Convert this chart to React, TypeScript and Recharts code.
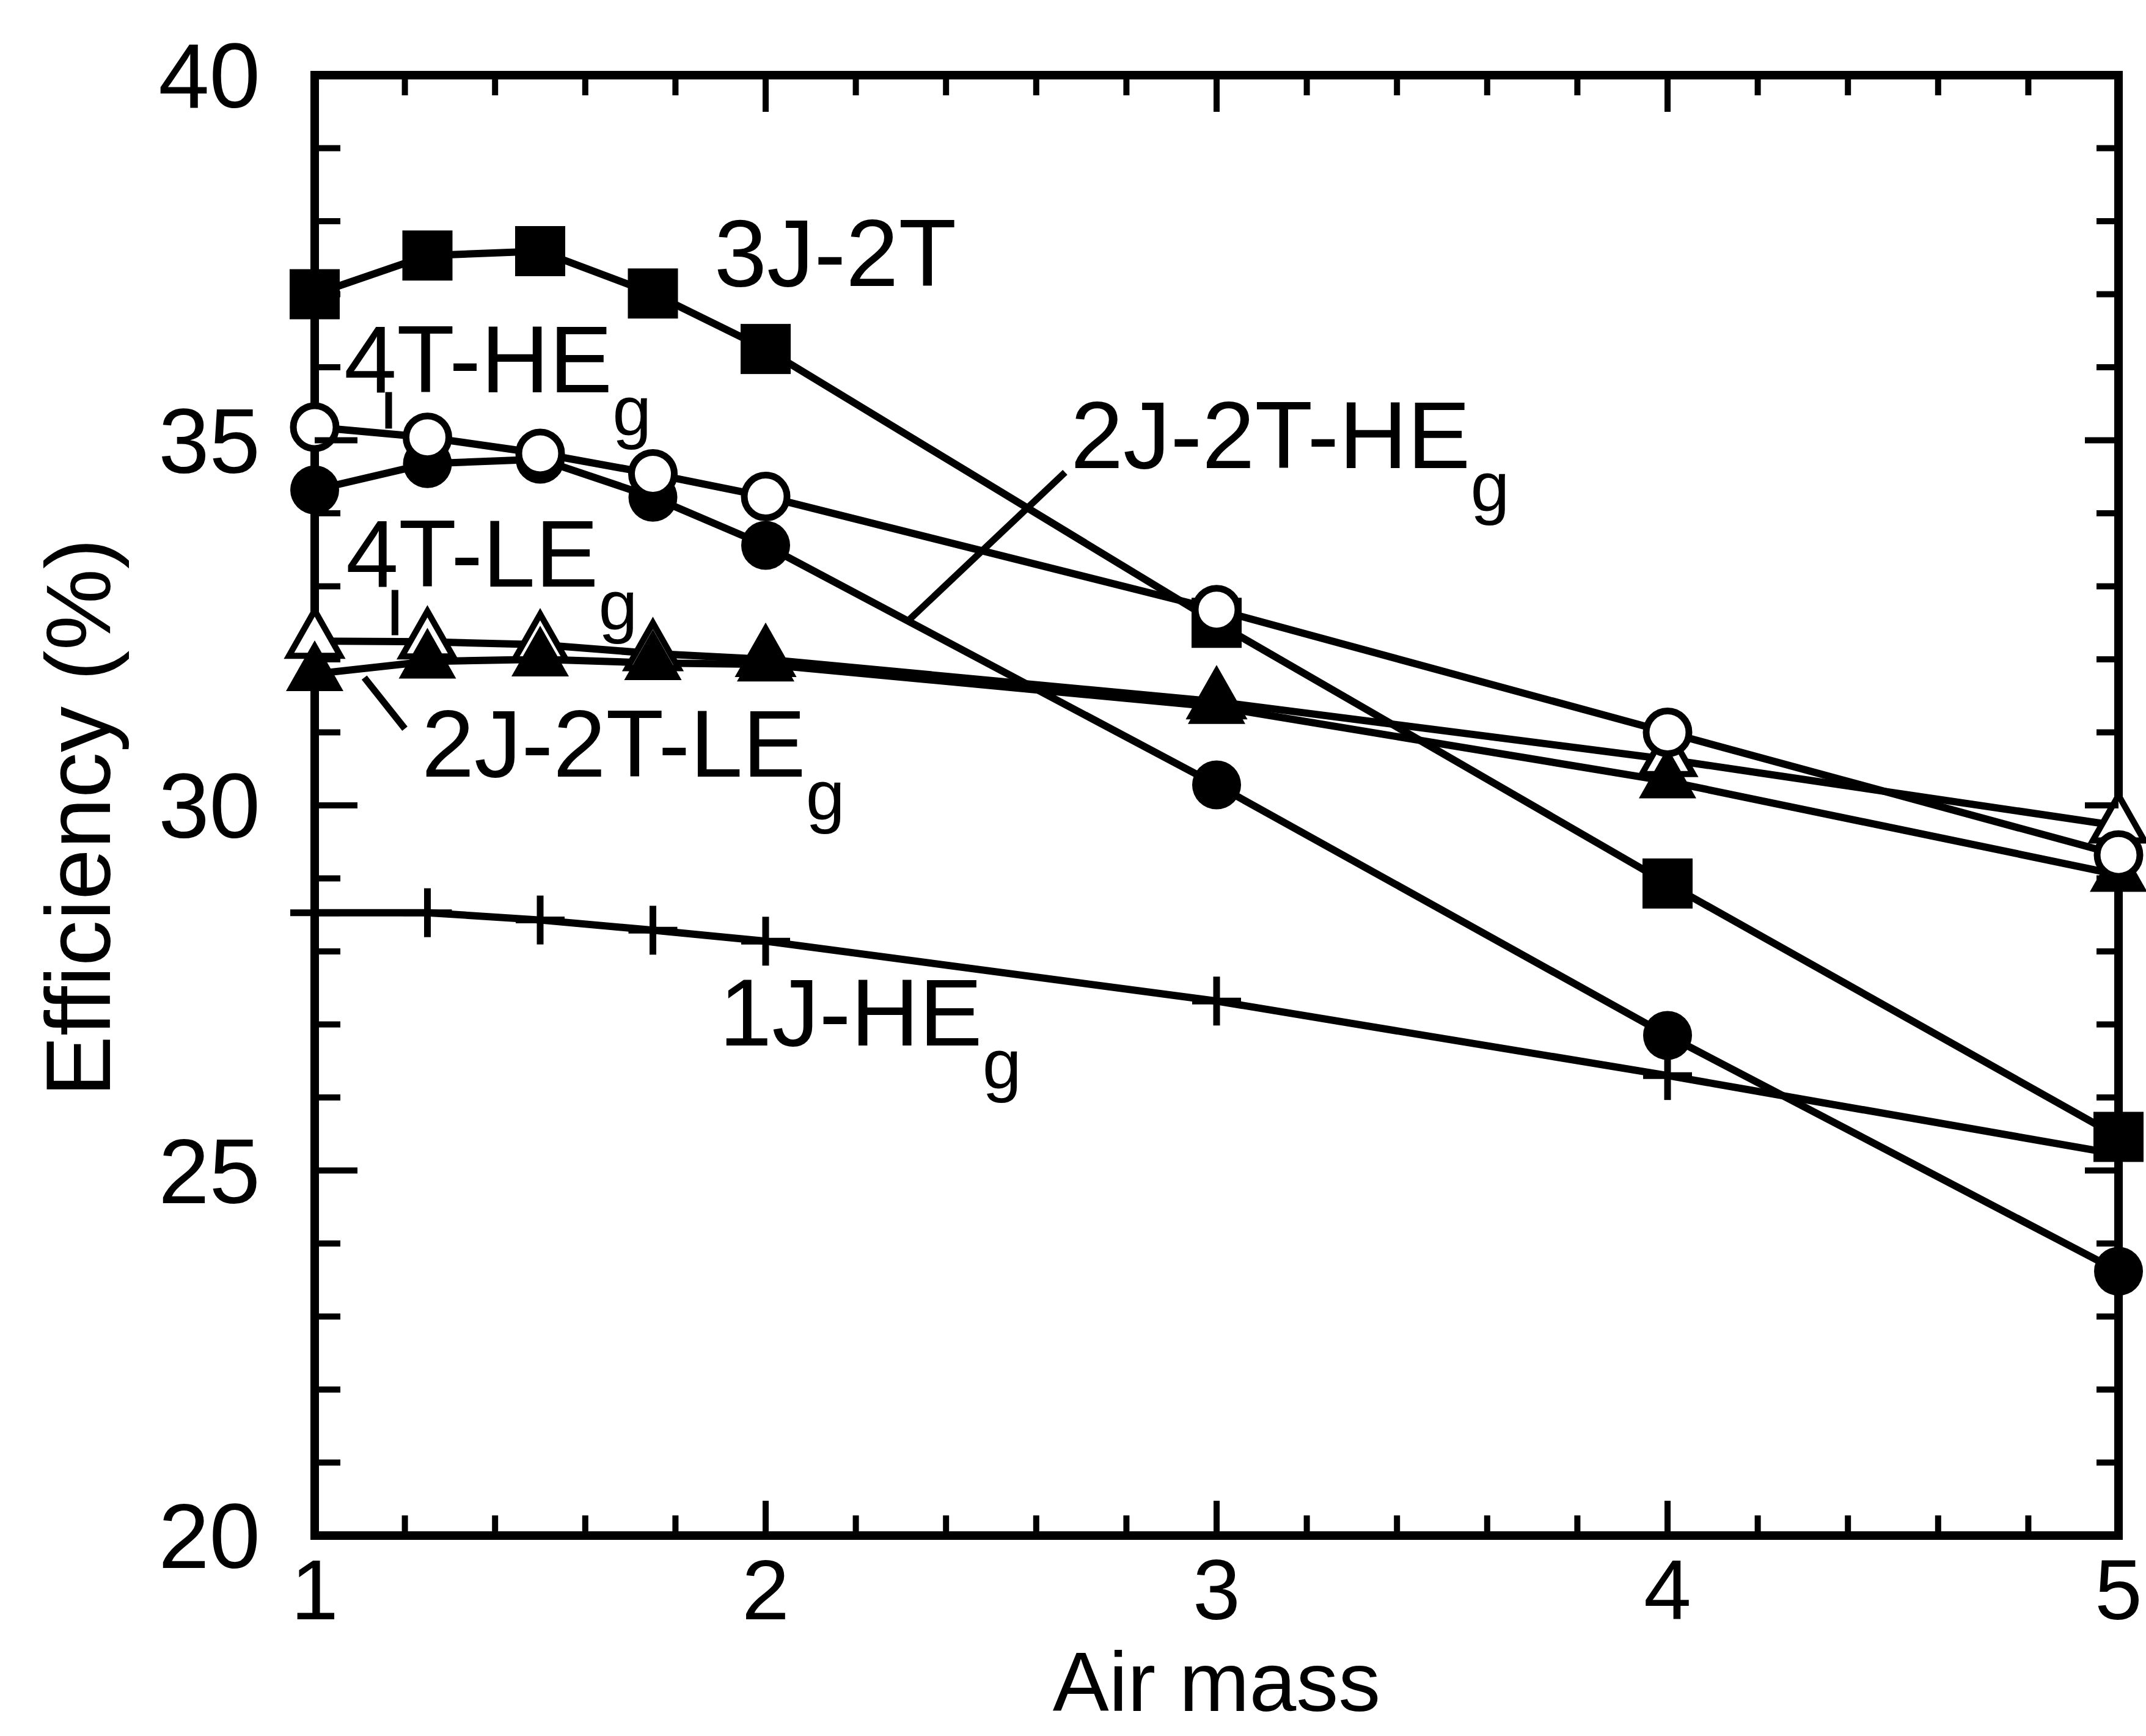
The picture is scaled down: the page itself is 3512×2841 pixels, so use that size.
import { LineChart, Line, XAxis, YAxis, ReferenceLine, ReferenceDot } from 'recharts';

const FONT = '"Liberation Sans", Arial, Helvetica, sans-serif';

// air mass values where every curve was computed
const AIR_MASS = [1, 1.25, 1.5, 1.75, 2, 3, 4, 5];

// efficiency (%) per configuration
const EFF_3J_2T = [37.0, 37.53, 37.59, 37.01, 36.25, 32.5, 28.93, 25.46];
const EFF_4T_HE = [35.18, 35.04, 34.82, 34.54, 34.23, 32.68, 31.0, 29.32];
const EFF_2J_2T_HE = [34.32, 34.68, 34.74, 34.22, 33.56, 30.28, 26.85, 23.62];
const EFF_4T_LE = [32.25, 32.24, 32.2, 32.08, 32.0, 31.42, 30.63, 29.72];
const EFF_2J_2T_LE = [31.8, 31.97, 32.0, 31.95, 31.93, 31.35, 30.33, 29.05];
const EFF_1J_HE = [28.53, 28.53, 28.43, 28.29, 28.14, 27.32, 26.3, 25.22];

const X_TICKS = [1, 1.2, 1.4, 1.6, 1.8, 2, 2.2, 2.4, 2.6, 2.8, 3, 3.2, 3.4, 3.6, 3.8, 4, 4.2, 4.4, 4.6, 4.8, 5];
const X_LABELS = [1, 2, 3, 4, 5];
const Y_TICKS = [20, 21, 22, 23, 24, 25, 26, 27, 28, 29, 30, 31, 32, 33, 34, 35, 36, 37, 38, 39, 40];
const Y_LABELS = [20, 25, 30, 35, 40];

// curve labels, anchored in data units (left end of the text baseline)
const ANNOTATIONS = [
  { x: 1.886, y: 37.115, text: '3J-2T', sub: '' },
  { x: 1.065, y: 35.66, text: '4T-HE', sub: 'g' },
  { x: 1.069, y: 33.0, text: '4T-LE', sub: 'g' },
  { x: 2.676, y: 34.62, text: '2J-2T-HE', sub: 'g' },
  { x: 1.237, y: 30.39, text: '2J-2T-LE', sub: 'g' },
  { x: 1.897, y: 26.71, text: '1J-HE', sub: 'g' },
];

const LEADERS = [
  { x1: 1.164, y1: 35.66, x2: 1.164, y2: 35.16 },
  { x1: 1.178, y1: 32.95, x2: 1.178, y2: 32.33 },
  { x1: 1.11, y1: 31.75, x2: 1.2, y2: 31.05 },
  { x1: 2.664, y1: 34.56, x2: 2.318, y2: 32.54 },
];

const data = AIR_MASS.map((x, i) => ({
  x,
  s3j2t: EFF_3J_2T[i],
  s4the: EFF_4T_HE[i],
  s2j2the: EFF_2J_2T_HE[i],
  s4tle: EFF_4T_LE[i],
  s2j2tle: EFF_2J_2T_LE[i],
  s1jhe: EFF_1J_HE[i],
}));

const isIn = (list: number[], v: number) => list.some((m) => Math.abs(m - v) < 1e-6);

const BottomTick = ({ x, y, payload }: any) => {
  const major = isIn(X_LABELS, payload.value);
  return (
    <g>
      <line x1={x} y1={y} x2={x} y2={y - (major ? 57 : 33)} stroke="#000" strokeWidth={10} />
      {major && (
        <text x={x} y={y + 137} textAnchor="middle" fontSize={140} fontFamily={FONT} fill="#000">
          {payload.value}
        </text>
      )}
    </g>
  );
};

const TopTick = ({ x, y, payload }: any) => {
  const major = isIn(X_LABELS, payload.value);
  return <line x1={x} y1={y} x2={x} y2={y + (major ? 60 : 33)} stroke="#000" strokeWidth={10} />;
};

const LeftTick = ({ x, y, payload }: any) => {
  const major = isIn(Y_LABELS, payload.value);
  return (
    <g>
      <line x1={x} y1={y} x2={x + (major ? 70 : 42)} y2={y} stroke="#000" strokeWidth={10} />
      {major && (
        <text x={x - 89} y={y + 53} textAnchor="end" fontSize={150} fontFamily={FONT} fill="#000">
          {payload.value}
        </text>
      )}
    </g>
  );
};

const RightTick = ({ x, y, payload }: any) => {
  const major = isIn(Y_LABELS, payload.value);
  return <line x1={x} y1={y} x2={x - (major ? 55 : 36)} y2={y} stroke="#000" strokeWidth={10} />;
};

const frame = { stroke: '#000', strokeWidth: 14, strokeLinecap: 'square' as const };

const Square = ({ cx, cy }: any) => <rect x={cx - 41} y={cy - 41} width={82} height={82} fill="#000" />;
const Dot = ({ cx, cy }: any) => <circle cx={cx} cy={cy} r={40} fill="#000" />;
const Ring = ({ cx, cy }: any) => <circle cx={cx} cy={cy} r={35} fill="#fff" stroke="#000" strokeWidth={11} />;
const Tri = ({ cx, cy }: any) => (
  <polygon points={`${cx},${cy - 55} ${cx - 47},${cy + 28} ${cx + 47},${cy + 28}`} fill="#000" />
);
const OpenTri = ({ cx, cy }: any) => (
  <polygon
    points={`${cx},${cy - 50} ${cx - 42},${cy + 24} ${cx + 42},${cy + 24}`}
    fill="#fff"
    stroke="#000"
    strokeWidth={10}
    strokeLinejoin="miter"
  />
);
const Plus = ({ cx, cy }: any) => (
  <g stroke="#000" strokeWidth={11}>
    <line x1={cx} y1={cy - 40} x2={cx} y2={cy + 40} />
    <line x1={cx - 40} y1={cy} x2={cx + 40} y2={cy} />
  </g>
);

const marker = (Shape: any, name: string) => (p: any) => <Shape key={`${name}-${p.index}`} cx={p.cx} cy={p.cy} />;

const CurveLabel = ({ cx, cy, text, sub }: any) => (
  <text x={cx} y={cy} fontSize={155} fontFamily={FONT} fill="#000">
    {text}
    {sub && (
      <tspan fontSize={115} dy={70}>
        {sub}
      </tspan>
    )}
  </text>
);

const LINE_W = 12;

export default function App() {
  return (
    <div style={{ position: 'absolute', left: 0, top: 0, background: '#fff' }}>
      <LineChart width={3512} height={2841} data={data} margin={{ top: 122, right: 44, bottom: 128, left: 215 }}>
        <XAxis
          dataKey="x"
          type="number"
          domain={[1, 5]}
          ticks={X_TICKS}
          interval={0}
          height={200}
          tickSize={0}
          tickMargin={0}
          tickLine={false}
          axisLine={frame}
          tick={BottomTick}
          label={{
            content: ({ viewBox }: any) => (
              <text
                x={viewBox.x + viewBox.width / 2}
                y={viewBox.y + 287}
                textAnchor="middle"
                fontSize={138}
                fontFamily={FONT}
                fill="#000"
              >
                Air mass
              </text>
            ),
          }}
        />
        <XAxis
          xAxisId="top"
          orientation="top"
          dataKey="x"
          type="number"
          domain={[1, 5]}
          allowDataOverflow
          ticks={X_TICKS}
          interval={0}
          height={1}
          tickSize={0}
          tickMargin={0}
          tickLine={false}
          axisLine={frame}
          tick={TopTick}
        />
        <YAxis
          type="number"
          domain={[20, 40]}
          ticks={Y_TICKS}
          interval={0}
          width={300}
          tickSize={0}
          tickMargin={0}
          tickLine={false}
          axisLine={frame}
          tick={LeftTick}
          label={{
            content: ({ viewBox }: any) => {
              const lx = viewBox.x + viewBox.width - 335;
              const ly = viewBox.y + viewBox.height / 2 + 20;
              return (
                <text
                  x={lx}
                  y={ly}
                  transform={`rotate(-90, ${lx}, ${ly})`}
                  textAnchor="middle"
                  fontSize={150}
                  fontFamily={FONT}
                  fill="#000"
                >
                  Efficiency (%)
                </text>
              );
            },
          }}
        />
        <YAxis
          yAxisId="right"
          orientation="right"
          type="number"
          dataKey="s3j2t"
          domain={[20, 40]}
          allowDataOverflow
          ticks={Y_TICKS}
          interval={0}
          width={1}
          tickSize={0}
          tickMargin={0}
          tickLine={false}
          axisLine={frame}
          tick={RightTick}
        />

        {LEADERS.map((l, i) => (
          <ReferenceLine
            key={`leader-${i}`}
            segment={[
              { x: l.x1, y: l.y1 },
              { x: l.x2, y: l.y2 },
            ]}
            stroke="#000"
            strokeWidth={11}
          />
        ))}

        <Line dataKey="s1jhe" type="linear" stroke="#000" strokeWidth={LINE_W} dot={marker(Plus, 'plus')} activeDot={false} isAnimationActive={false} />
        <Line dataKey="s3j2t" type="linear" stroke="#000" strokeWidth={LINE_W} dot={marker(Square, 'sq')} activeDot={false} isAnimationActive={false} />
        <Line dataKey="s2j2the" type="linear" stroke="#000" strokeWidth={LINE_W} dot={marker(Dot, 'dot')} activeDot={false} isAnimationActive={false} />
        <Line dataKey="s4tle" type="linear" stroke="#000" strokeWidth={LINE_W} dot={marker(OpenTri, 'otri')} activeDot={false} isAnimationActive={false} />
        <Line dataKey="s2j2tle" type="linear" stroke="#000" strokeWidth={LINE_W} dot={marker(Tri, 'tri')} activeDot={false} isAnimationActive={false} />
        <Line dataKey="s4the" type="linear" stroke="#000" strokeWidth={LINE_W} dot={marker(Ring, 'ring')} activeDot={false} isAnimationActive={false} />

        {ANNOTATIONS.map((a, i) => (
          <ReferenceDot
            key={`ann-${i}`}
            x={a.x}
            y={a.y}
            r={0}
            shape={(p: any) => <CurveLabel cx={p.cx} cy={p.cy} text={a.text} sub={a.sub} />}
          />
        ))}
      </LineChart>
    </div>
  );
}
